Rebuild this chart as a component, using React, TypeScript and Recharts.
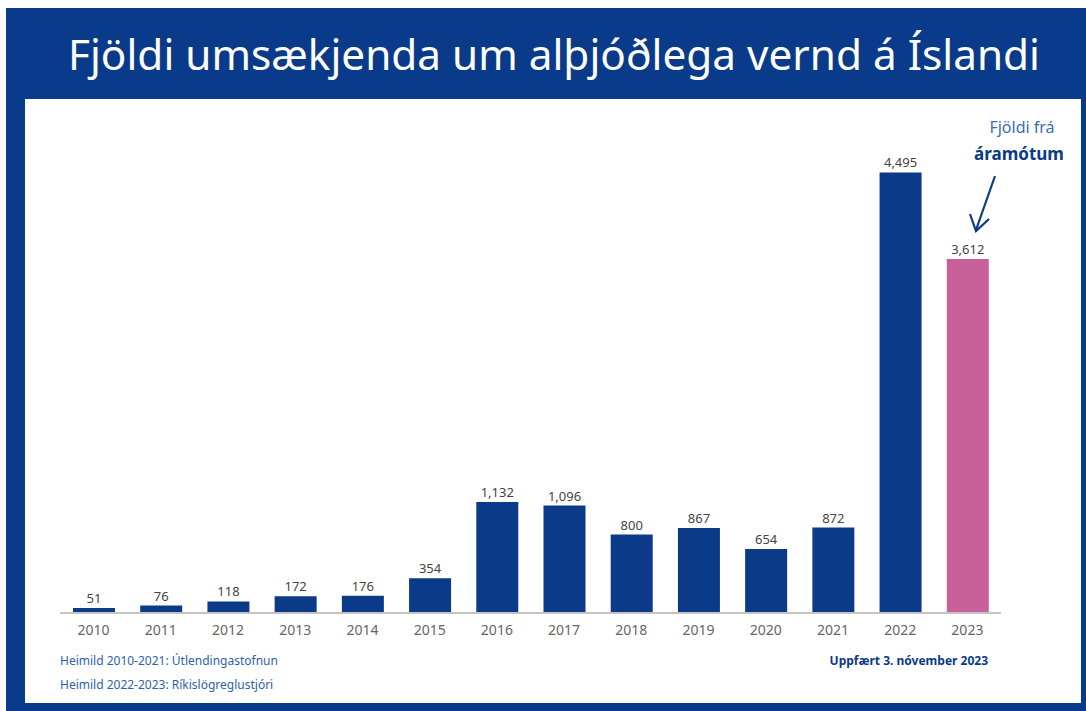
import React from "react";
import { BarChart, Bar, XAxis, YAxis, LabelList, Cell } from "recharts";

const years = ["2010", "2011", "2012", "2013", "2014", "2015", "2016", "2017", "2018", "2019", "2020", "2021", "2022", "2023"];
const applicants = [51, 76, 118, 172, 176, 354, 1132, 1096, 800, 867, 654, 872, 4495, 3612];
const barColors = ["#0b3a88", "#0b3a88", "#0b3a88", "#0b3a88", "#0b3a88", "#0b3a88", "#0b3a88", "#0b3a88", "#0b3a88", "#0b3a88", "#0b3a88", "#0b3a88", "#0b3a88", "#c8609b"];

const title = "Fjöldi umsækjenda um alþjóðlega vernd á Íslandi";
const sources = ["Heimild 2010-2021: Útlendingastofnun", "Heimild 2022-2023: Ríkislögreglustjóri"];
const updated = "Uppfært 3. nóvember 2023";

const data = years.map((year, i) => ({ year, value: applicants[i], color: barColors[i] }));

const FONT = "'Noto Sans', 'Open Sans', sans-serif";
const NAVY = "#0a3b8a";

export default function App() {
  return (
    <div style={{ position: "absolute", left: 0, top: 0, width: 1086, height: 711, background: "#fff", fontFamily: FONT, overflow: "hidden" }}>
      {/* blue frame + title banner */}
      <div style={{ position: "absolute", left: 6, top: 8, width: 1080, height: 703, background: NAVY }} />
      <svg style={{ position: "absolute", left: 0, top: 0 }} width={1086} height={100}>
        <text x={68} y={70} textLength={972} lengthAdjust="spacingAndGlyphs" fill="#fff" fontSize={42} fontFamily={FONT}>
          {title}
        </text>
      </svg>
      <div style={{ position: "absolute", left: 25, top: 99, width: 1056, height: 604, background: "#fff" }} />

      <div style={{ position: "absolute", left: 0, top: 0 }}>
        <BarChart width={1086} height={711} data={data} margin={{ top: 123, right: 85, bottom: 68, left: 60 }}>
          <XAxis
            dataKey="year"
            axisLine={{ stroke: "#c4c4c4", strokeWidth: 2 }}
            tickLine={false}
            height={30}
            tickMargin={6}
            tick={{ fill: "#666", fontSize: 14, fontFamily: FONT }}
          />
          <YAxis hide domain={[0, 5000]} />
          <Bar dataKey="value" barSize={42} isAnimationActive={false}>
            {data.map((d) => (
              <Cell key={d.year} fill={d.color} />
            ))}
            <LabelList
              dataKey="value"
              position="top"
              offset={5}
              formatter={(v: number) => v.toLocaleString("en-US")}
              style={{ fill: "#444", fontSize: 13, fontFamily: FONT }}
            />
          </Bar>
        </BarChart>
      </div>

      {/* annotation for the 2023 bar */}
      <svg style={{ position: "absolute", left: 0, top: 0, pointerEvents: "none" }} width={1086} height={711}>
        <text x={1022} y={133} textAnchor="middle" fill="#3b6db5" fontSize={16} fontFamily={FONT}>Fjöldi frá</text>
        <text x={1019} y={160} textAnchor="middle" fill="#0b3a88" fontSize={17} fontWeight="bold" fontFamily={FONT}>áramótum</text>
        <line x1={995} y1={176} x2={976} y2={230} stroke="#0b3a88" strokeWidth={2.2} />
        <polyline points="970,214 976,231 989,219" fill="none" stroke="#0b3a88" strokeWidth={2.2} />
        <text x={60} y={665} fill="#2d62ad" fontSize={12} fontFamily={FONT}>{sources[0]}</text>
        <text x={60} y={689} fill="#2d62ad" fontSize={12} fontFamily={FONT}>{sources[1]}</text>
        <text x={988} y={665} textAnchor="end" fill="#0b3a88" fontSize={12} fontWeight="bold" fontFamily={FONT}>{updated}</text>
      </svg>
    </div>
  );
}
